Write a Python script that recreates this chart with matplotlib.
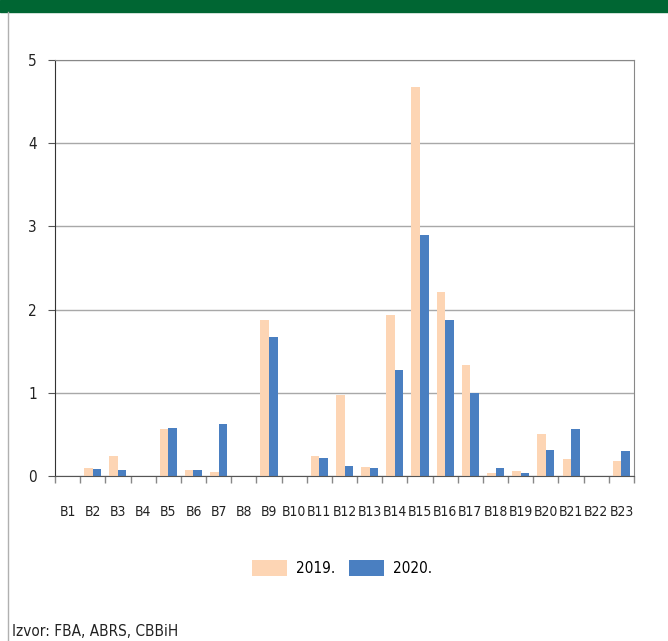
import numpy as np
import matplotlib.pyplot as plt
from matplotlib.patches import Rectangle
from matplotlib.lines import Line2D

plt.rcParams['font.family'] = ['DejaVu Sans']
plt.rcParams['font.stretch'] = 'condensed'

categories = ['B' + str(i) for i in range(1, 24)]
vals_2019 = [0, 0.10, 0.24, 0, 0.56, 0.07, 0.05, 0, 1.87, 0, 0.24, 0.97,
             0.11, 1.94, 4.67, 2.21, 1.34, 0.04, 0.06, 0.50, 0.20, 0, 0.18]
vals_2020 = [0, 0.08, 0.07, 0, 0.58, 0.07, 0.63, 0, 1.67, 0, 0.22, 0.12,
             0.10, 1.28, 2.90, 1.87, 1.00, 0.10, 0.04, 0.31, 0.56, 0, 0.30]
legend_labels = ['2019.', '2020.']
source_text = 'Izvor: FBA, ABRS, CBBiH'

c19 = '#fdd5b4'
c20 = '#4a7fc1'

fig = plt.figure(figsize=(6.68, 6.41), dpi=100)
fig.patches.append(Rectangle((0, 1 - 12/641), 1, 12/641, transform=fig.transFigure,
                             color='#006633', zorder=0))
fig.lines.append(Line2D([8/668, 8/668], [0, 1 - 12/641], transform=fig.transFigure,
                        color='#b0b0b0', lw=1))

ax = fig.add_axes([55/668, 1 - 476/641, 579/668, 416/641])
x = np.arange(len(categories))
w = 0.34
ax.bar(x - w/2, vals_2019, w, color=c19, label=legend_labels[0], zorder=2)
ax.bar(x + w/2, vals_2020, w, color=c20, label=legend_labels[1], zorder=2)

ax.set_xlim(-0.5, len(categories) - 0.5)
ax.set_ylim(0, 5)
ax.set_yticks(range(0, 6))
ax.yaxis.grid(True, color='#a8a8a8', lw=1)
ax.set_axisbelow(True)

ax.set_xticks(x)
ax.set_xticklabels(categories, fontsize=10, color='#222222')
ax.tick_params(axis='x', which='major', length=0, pad=21)
ax.set_xticks(np.arange(-0.5, len(categories)), minor=True)
ax.tick_params(axis='x', which='minor', length=5, color='#888888', width=1)
ax.tick_params(axis='y', length=5, color='#555555', labelsize=11, pad=8, labelcolor='#222222')

for s in ['top', 'right']:
    ax.spines[s].set_color('#888888')
ax.spines['left'].set_color('#333333')
ax.spines['bottom'].set_color('#555555')

fig.legend(loc='center', bbox_to_anchor=(342/668, 1 - 568/641), ncol=2, frameon=False,
           fontsize=11, handlelength=2.3, handleheight=1.2, columnspacing=0.9, handletextpad=0.6)

fig.text(12/668, 1 - 632/641, source_text, fontsize=11, va='center', ha='left', color='#222222')

fig.savefig('out.png', dpi=100)
